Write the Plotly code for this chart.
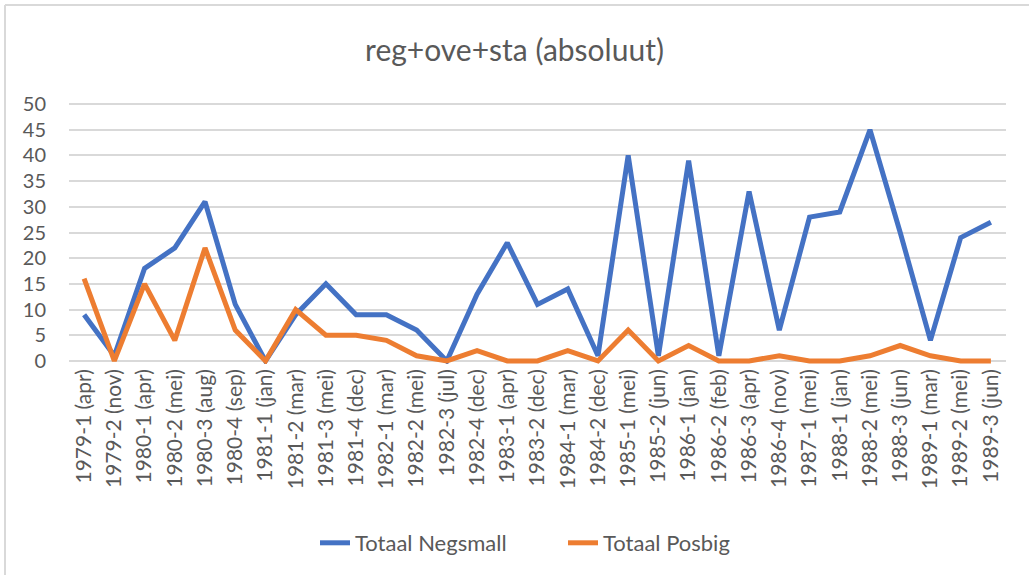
import plotly.graph_objects as go

categories = ["1979-1 (apr)", "1979-2 (nov)", "1980-1 (apr)", "1980-2 (mei)", "1980-3 (aug)",
              "1980-4 (sep)", "1981-1 (jan)", "1981-2 (mar)", "1981-3 (mei)", "1981-4 (dec)",
              "1982-1 (mar)", "1982-2 (mei)", "1982-3 (jul)", "1982-4 (dec)", "1983-1 (apr)",
              "1983-2 (dec)", "1984-1 (mar)", "1984-2 (dec)", "1985-1 (mei)", "1985-2 (jun)",
              "1986-1 (jan)", "1986-2 (feb)", "1986-3 (apr)", "1986-4 (nov)", "1987-1 (mei)",
              "1988-1 (jan)", "1988-2 (mei)", "1988-3 (jun)", "1989-1 (mar)", "1989-2 (mei)",
              "1989-3 (jun)"]

negsmall = [9, 1, 18, 22, 31, 11, 0, 9, 15, 9, 9, 6, 0, 13, 23, 11, 14, 1, 40, 1,
            39, 1, 33, 6, 28, 29, 45, 25, 4, 24, 27]
posbig = [16, 0, 15, 4, 22, 6, 0, 10, 5, 5, 4, 1, 0, 2, 0, 0, 2, 0, 6, 0,
          3, 0, 0, 1, 0, 0, 1, 3, 1, 0, 0]

y_ticks = list(range(0, 51, 5))

FONT = "Lato"
GREY = "#595959"

L, R, T, B = 69, 1006, 101, 364  # plot area in pixels
PW, PH = R - L, B - T


def px_x(x):
    return (x - L) / PW


def px_y(y):
    return (B - y) / PH


fig = go.Figure()
fig.add_trace(go.Scatter(x=categories, y=negsmall, mode="lines", name="Totaal Negsmall",
                         line=dict(color="#4472C4", width=5, shape="linear")))
fig.add_trace(go.Scatter(x=categories, y=posbig, mode="lines", name="Totaal Posbig",
                         line=dict(color="#ED7D31", width=5, shape="linear")))

fig.update_layout(
    width=1029, height=575, autosize=False,
    margin=dict(l=L, r=1029 - R, t=T, b=575 - B, autoexpand=False),
    paper_bgcolor="white", plot_bgcolor="white",
    font=dict(family=FONT, color=GREY, size=20),
    title=dict(text="reg+ove+sta (absoluut)", x=0.5, xref="container", xanchor="center",
               y=1 - 50 / 575, yref="container", yanchor="middle",
               font=dict(family=FONT, size=30, color=GREY)),
    showlegend=True,
    legend=dict(orientation="h", x=px_x(563), xref="paper", xanchor="center",
                y=px_y(543), yref="paper", yanchor="middle",
                font=dict(family=FONT, size=22, color=GREY),
                entrywidth=203, entrywidthmode="pixels",
                traceorder="normal", bgcolor="rgba(0,0,0,0)"),
    xaxis=dict(type="category", tickangle=-90, showgrid=False, showline=False,
               ticks="", tickfont=dict(family=FONT, size=21, color=GREY),
               tickmode="array", tickvals=categories, ticktext=categories,
               range=[-0.5, len(categories) - 0.5], automargin=False),
    yaxis=dict(range=[-0.6, 50.6], tickvals=y_ticks, showgrid=True, gridcolor="#D9D9D9",
               gridwidth=1.5, zeroline=True, zerolinecolor="#D9D9D9", zerolinewidth=1.5,
               showline=False, ticks="", tickfont=dict(family=FONT, size=20, color=GREY),
               ticklabelstandoff=22, automargin=False),
)

# chart-area border (visible on the left and top edges)
fig.add_shape(type="line", xref="paper", yref="paper",
              x0=px_x(5), x1=px_x(5), y0=px_y(575), y1=px_y(5),
              line=dict(color="#D9D9D9", width=2), layer="below")
fig.add_shape(type="line", xref="paper", yref="paper",
              x0=px_x(5), x1=px_x(1029), y0=px_y(5), y1=px_y(5),
              line=dict(color="#D9D9D9", width=2), layer="below")

fig.write_html("out.html", config={"displayModeBar": False},
               post_script="document.body.style.margin='0';document.body.style.overflow='hidden';")
